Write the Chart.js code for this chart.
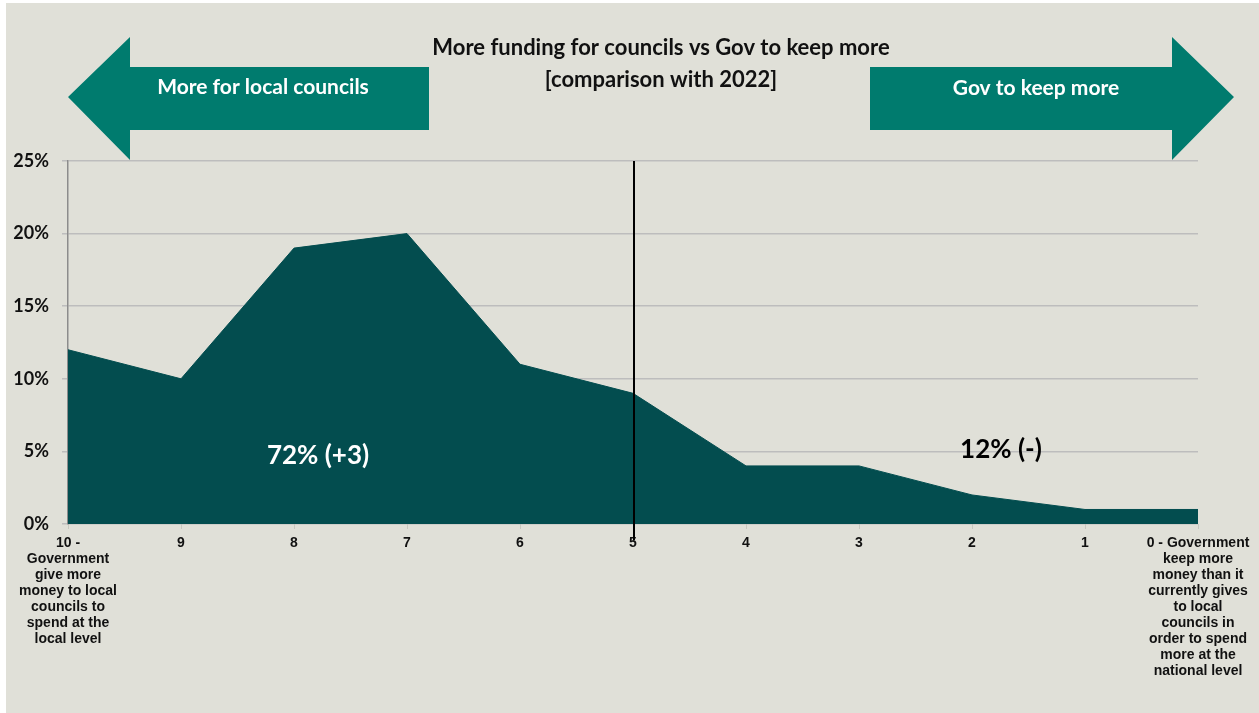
<!DOCTYPE html>
<html>
<head>
<meta charset="utf-8">
<script src="https://cdn.jsdelivr.net/npm/chart.js@4/dist/chart.umd.min.js"></script>
<style>
  html, body { margin: 0; padding: 0; background: #ffffff; }
  #wrap { position: relative; width: 1259px; height: 713px; }
</style>
</head>
<body>
<div id="wrap"><canvas id="chart" width="1259" height="713"></canvas></div>
<script>
// scale positions, left to right
const categories = [
    ['10 -', 'Government', 'give more', 'money to local', 'councils to', 'spend at the', 'local level'],
    '9', '8', '7', '6', '5', '4', '3', '2', '1',
    ['0 - Government', 'keep more', 'money than it', 'currently gives', 'to local', 'councils in', 'order to spend', 'more at the', 'national level']
];
const shares = [12, 10, 19, 20, 11, 9, 4, 4, 2, 1, 1]; // % of respondents
const yTicks = [0, 5, 10, 15, 20, 25];
const titleLines = ['More funding for councils vs Gov to keep more', '[comparison with 2022]'];
const leftArrowText = 'More for local councils';
const rightArrowText = 'Gov to keep more';
const leftTotal = '72% (+3)';
const rightTotal = '12% (-)';
const midIndex = 5;

const BG = '#e0e0d8';
const AREA = '#034d4f';
const ARROW = '#007b6e';
const headFont = 'Lato, "Open Sans", sans-serif';

const decorations = {
    id: 'decorations',
    beforeDraw(chart) {
        const c = chart.ctx;
        c.save();
        c.fillStyle = '#ffffff';
        c.fillRect(0, 0, chart.width, chart.height);
        c.fillStyle = BG;
        c.fillRect(6, 3, chart.width - 6, chart.height - 3);
        c.restore();
    },
    afterDraw(chart) {
        const c = chart.ctx;
        const area = chart.chartArea;
        const x = chart.scales.x;

        // divider at the midpoint
        const mx = x.getPixelForValue(midIndex);
        c.save();
        c.strokeStyle = '#000000';
        c.lineWidth = 2;
        c.beginPath();
        c.moveTo(mx + 1, area.top);
        c.lineTo(mx + 1, area.bottom + 16);
        c.stroke();

        // arrows
        c.fillStyle = ARROW;
        c.beginPath();
        c.moveTo(68, 97);
        c.lineTo(130, 37);
        c.lineTo(130, 67);
        c.lineTo(429, 67);
        c.lineTo(429, 130);
        c.lineTo(130, 130);
        c.lineTo(130, 160);
        c.closePath();
        c.fill();

        c.beginPath();
        c.moveTo(1234, 97);
        c.lineTo(1172, 37);
        c.lineTo(1172, 67);
        c.lineTo(870, 67);
        c.lineTo(870, 130);
        c.lineTo(1172, 130);
        c.lineTo(1172, 160);
        c.closePath();
        c.fill();

        c.textAlign = 'center';
        c.textBaseline = 'middle';
        c.fillStyle = '#ffffff';
        c.font = 'bold 21px ' + headFont;
        c.fillText(leftArrowText, 263, 87);
        c.fillText(rightArrowText, 1036, 88);

        // title
        c.fillStyle = '#111111';
        c.font = 'bold 22px ' + headFont;
        c.fillText(titleLines[0], 661, 48);
        c.fillText(titleLines[1], 661, 80);

        // totals
        c.font = 'bold 26px ' + headFont;
        c.fillStyle = '#ffffff';
        c.fillText(leftTotal, 318, 456);
        c.fillStyle = '#000000';
        c.font = 'bold 26px ' + headFont;
        c.fillText(rightTotal, 1001, 450);
        c.restore();
    }
};

new Chart(document.getElementById('chart'), {
    type: 'line',
    data: {
        labels: categories,
        datasets: [{
            data: shares,
            fill: 'origin',
            backgroundColor: AREA,
            borderColor: AREA,
            borderWidth: 1,
            pointRadius: 0,
            tension: 0
        }]
    },
    options: {
        responsive: false,
        animation: false,
        events: [],
        layout: { padding: { left: 0, right: 61, top: 161, bottom: 0 } },
        plugins: {
            legend: { display: false },
            tooltip: { enabled: false }
        },
        scales: {
            x: {
                offset: false,
                afterFit: s => { s.height = 713 - 524; },
                grid: { drawOnChartArea: false, drawTicks: true, tickLength: 5, color: '#c8c8c0' },
                border: { display: false },
                ticks: {
                    color: '#111111',
                    maxRotation: 0,
                    autoSkip: false,
                    padding: 6,
                    font: { family: '"Liberation Sans", Arial, sans-serif', size: 14, weight: 'bold', lineHeight: 1.143 }
                }
            },
            y: {
                min: 0,
                max: 25,
                afterFit: s => { s.width = 68; },
                afterBuildTicks: s => { s.ticks = yTicks.map(v => ({ value: v })); },
                grid: { color: '#bdbdbd', lineWidth: 1.5, tickLength: 6 },
                border: { color: '#8c8c8c', width: 1.5 },
                ticks: {
                    color: '#111111',
                    padding: 13,
                    callback: v => v + '%',
                    font: { family: headFont, size: 18, weight: 'bold' }
                }
            }
        }
    },
    plugins: [decorations]
});
</script>
</body>
</html>
